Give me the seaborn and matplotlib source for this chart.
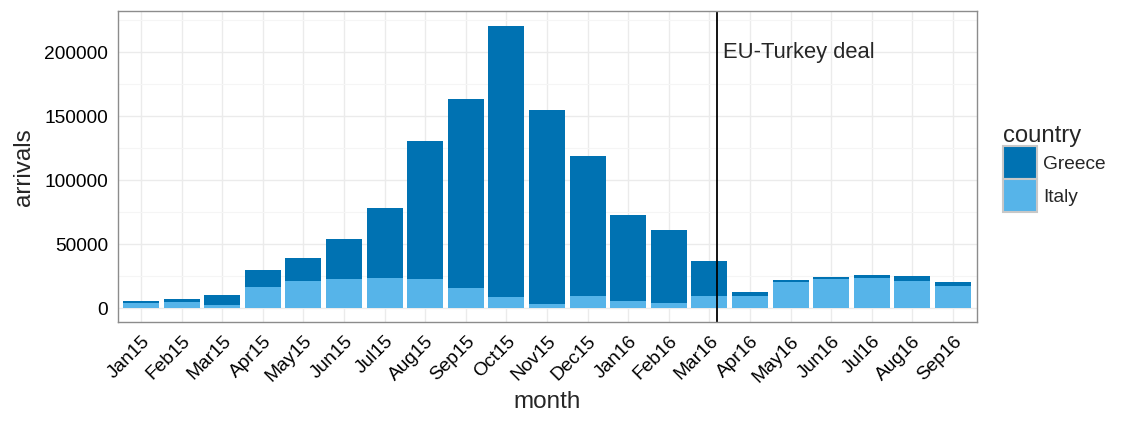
import pandas as pd
import matplotlib
matplotlib.use('Agg')
import matplotlib.pyplot as plt
import seaborn as sns
from matplotlib.patches import Patch
from matplotlib.ticker import MultipleLocator

months = ['Jan15', 'Feb15', 'Mar15', 'Apr15', 'May15', 'Jun15', 'Jul15', 'Aug15',
          'Sep15', 'Oct15', 'Nov15', 'Dec15', 'Jan16', 'Feb16', 'Mar16', 'Apr16',
          'May16', 'Jun16', 'Jul16', 'Aug16', 'Sep16']
greece = [1694, 2873, 7874, 13556, 17889, 31318, 54899, 107843, 147123, 211663,
          151249, 108742, 67415, 57066, 26971, 3650, 1721, 1554, 1920, 3447, 3080]
italy = [3528, 4354, 2283, 16063, 21231, 22877, 23210, 22610, 15922, 8916,
         3218, 9636, 5273, 3828, 9676, 9149, 19925, 22339, 23552, 21294, 16975]

df = pd.DataFrame({'month': months, 'Greece': greece, 'Italy': italy})
df['total'] = df['Greece'] + df['Italy']

c_greece = '#0072B2'
c_italy = '#56B4E9'

sns.set_style('whitegrid')
plt.rcParams['font.family'] = ['Liberation Sans', 'DejaVu Sans']

fig = plt.figure(figsize=(11.4, 4.27), dpi=100)
ax = fig.add_axes([0.1035, 0.2436, 0.7535, 0.7283])

# stacked: total in Greece colour, Italy drawn over the bottom part
sns.barplot(data=df, x='month', y='total', color=c_greece, saturation=1,
            width=0.89, ax=ax, order=months, linewidth=0)
sns.barplot(data=df, x='month', y='Italy', color=c_italy, saturation=1,
            width=0.89, ax=ax, order=months, linewidth=0)

ax.set_xlim(-0.567, 20.59)
ax.set_ylim(-10940, 232030)
ax.yaxis.set_minor_locator(MultipleLocator(25000))
ax.set_yticks([0, 50000, 100000, 150000, 200000])
ax.set_yticklabels(['0', '50000', '100000', '150000', '200000'])

ax.grid(True, which='major', color='#EBEBEB', linewidth=1.0)
ax.grid(True, which='minor', axis='y', color='#F5F5F5', linewidth=0.8)
ax.set_axisbelow(True)
for s in ax.spines.values():
    s.set_color('#8C8C8C')
    s.set_linewidth(1.0)

ax.tick_params(axis='both', which='major', length=4, width=1, color='#333333',
               labelsize=13.8, labelcolor='black', pad=3)
ax.tick_params(axis='y', which='minor', length=0)
plt.setp(ax.get_xticklabels(), rotation=45, ha='right', rotation_mode='anchor')

ax.set_xlabel('month', fontsize=17.5, labelpad=4)
ax.set_ylabel('arrivals', fontsize=17.5, labelpad=7)

# EU-Turkey deal (20 March 2016)
ax.axvline(14.19, color='black', linewidth=1.3)
ax.text(14.34, 200000, 'EU-Turkey deal', fontsize=15.8, va='center', ha='left')

handles = [Patch(facecolor=c_greece, edgecolor='#C8C8C8', linewidth=1.5, label='Greece'),
           Patch(facecolor=c_italy, edgecolor='#C8C8C8', linewidth=1.5, label='Italy')]
leg = fig.legend(handles=handles, title='country', loc='center left',
                 bbox_to_anchor=(0.873, 0.605), frameon=False, fontsize=13.8,
                 title_fontsize=17.2, handlelength=1.8, handleheight=2.27,
                 handletextpad=0.3, labelspacing=0.0, borderaxespad=0)
leg._legend_box.align = 'left'

fig.savefig('out.png', dpi=100)
